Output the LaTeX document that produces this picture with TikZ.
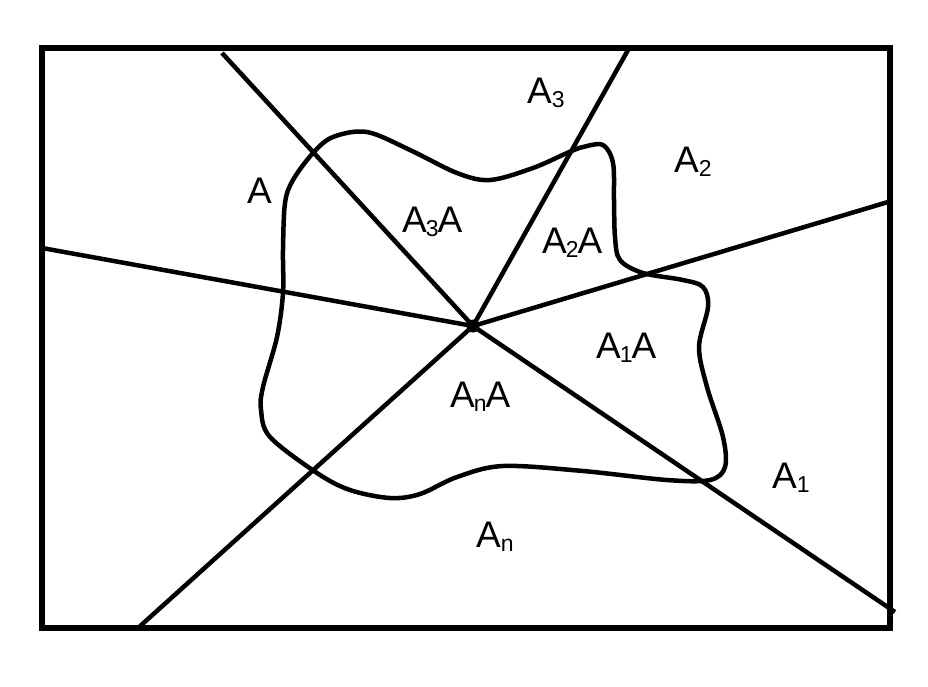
\documentclass[tikz,border=0pt]{standalone}
\usepackage{fontspec}
\setmainfont{Liberation Sans}
\newcommand\sbs[1]{\raisebox{-4pt}{\fontsize{23}{23}\selectfont #1}}
\begin{document}
\begin{tikzpicture}[x=1pt,y=-1pt,
  ray/.style={line width=4.5pt},
  frame/.style={line width=5.5pt},
  blob/.style={line width=4.5pt,line join=round},
  lab/.style={anchor=base west,inner sep=0pt,font=\fontsize{37}{42}\selectfont}]
\useasboundingbox (0,0) rectangle (928,686);
\draw[frame] (42,48) rectangle (890,628);
\coordinate (O) at (473,326);
\coordinate (e1) at (222,53);
\coordinate (e2) at (628,50);
\coordinate (e3) at (888,202);
\coordinate (e4) at (42,248);
\coordinate (e5) at (138,628);
\coordinate (e6) at (895,612);
\foreach \e in {e1,e2,e3,e4,e5,e6} \draw[ray] (O) -- (\e);
\fill (O) circle (6.5pt);
\draw[blob] plot[smooth cycle, tension=0.55] coordinates {
 (285,203) (283,250) (283,293) (277,337) (263,387) (261,410) (270,437)
 (317,473) (350,490) (390,498) (420,494) (457,477) (503,466) (583,471)
 (667,480) (710,480)
 (725,467) (723,437) (707,387) (699,347) (708,307) (703,287) (683,280)
 (643,273) (620,260) (615,237) (614,200) (613,163) (603,145) (583,147)
 (567,153) (533,168) (490,180) (457,173) (410,150) (367,132) (333,137)
 (313,153) (293,180)};
\node[lab] (tA) at (247,203) {A};
\node[lab] (tA3) at (527,103) {A\sbs{3}};
\node[lab] (tA2) at (674,172) {A\sbs{2}};
\node[lab] (tA3A) at (402,232) {A\kern-1pt\sbs{3}\kern-1pt A};
\node[lab] (tA2A) at (542,253) {A\kern-1pt\sbs{2}\kern-1pt A};
\node[lab] (tA1A) at (596,358) {A\kern-1pt\sbs{1}\kern-1pt A};
\node[lab] (tAnA) at (450,407) {A\kern-1pt\sbs{n}\kern-1pt A};
\node[lab] (tA1) at (772,488) {A\sbs{1}};
\node[lab] (tAn) at (476,547) {A\sbs{n}};
\end{tikzpicture}
\end{document}
